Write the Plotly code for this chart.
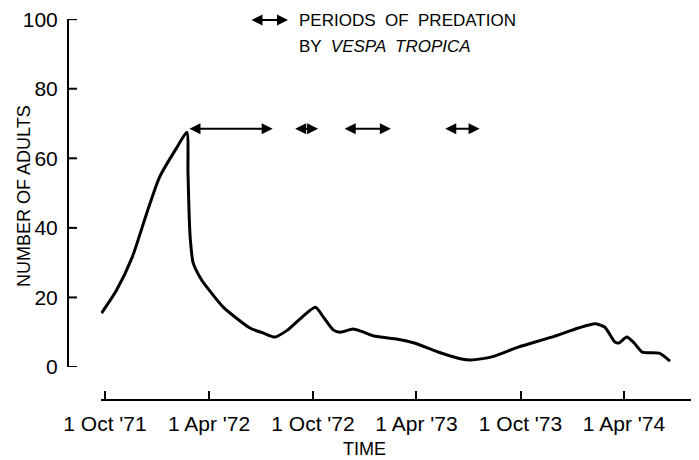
import plotly.graph_objects as go

# population of adults
dates = ["1971-09-25", "1971-10-21", "1971-11-18", "1971-12-13", "1972-01-05",
         "1972-02-04", "1972-02-22", "1972-02-24", "1972-02-26", "1972-02-28",
         "1972-03-04", "1972-03-19", "1972-03-28", "1972-04-26", "1972-06-12",
         "1972-07-05", "1972-07-26", "1972-08-17", "1972-10-05", "1972-10-19",
         "1972-11-06", "1972-11-18", "1972-12-10", "1972-12-24", "1973-01-16",
         "1973-02-27", "1973-03-28", "1973-05-09", "1973-06-19", "1973-07-06",
         "1973-08-11", "1973-09-27", "1973-11-25", "1974-01-11", "1974-02-09",
         "1974-02-26", "1974-03-16", "1974-03-23", "1974-04-06", "1974-04-19",
         "1974-05-03", "1974-06-02", "1974-06-21"]
adults = [15.5, 22, 31.6, 44, 54.6,
          63, 67.5, 56, 44, 37,
          30, 25, 23, 17.2, 11.2,
          9.8, 8.6, 10.6, 17.2, 14.4,
          10.6, 10, 10.9, 10.3, 8.9,
          8, 6.9, 4.3, 2.3, 2,
          2.9, 5.7, 8.6, 11.2, 12.4,
          11.5, 7.2, 6.9, 8.6, 6.9,
          4.3, 4, 1.7]

# periods of predation by Vespa tropica
pred_start = ["1972-02-24", "1972-08-28", "1972-11-23", "1973-05-19"]
pred_end = ["1972-07-22", "1972-10-10", "1973-02-15", "1973-07-21"]
pred_level = 68.5

tick_dates = ["1971-10-01", "1972-04-01", "1972-10-01", "1973-04-01", "1973-10-01", "1974-04-01"]
tick_text = ["1 Oct '71", "1 Apr '72", "1 Oct '72", "1 Apr '73", "1 Oct '73", "1 Apr '74"]
y_ticks = [0, 20, 40, 60, 80, 100]
x_end = "1974-08-11"

# page body has an 8px margin, so the figure is drawn 8px in from the window corner
OFF = 8
W, H = 699 - OFF, 460 - OFF
font_main = "Liberation Sans, Arial, sans-serif"


def px(x):
    return (x - OFF) / W


def py(y):
    return (H - (y - OFF)) / H


fig = go.Figure()
fig.add_trace(go.Scatter(x=dates, y=adults, mode='lines',
                         line=dict(color='black', width=3, shape='spline', smoothing=0.6),
                         showlegend=False, hoverinfo='skip'))

for s, e in zip(pred_start, pred_end):
    fig.add_annotation(x=e, y=pred_level, ax=s, ay=pred_level, xref='x', yref='y',
                       axref='x', ayref='y', text='', showarrow=True,
                       arrowhead=2, arrowside='end+start', arrowsize=1.1,
                       arrowwidth=2, arrowcolor='black')

# legend key
fig.add_annotation(x=px(288), y=py(20), xref='paper', yref='paper', ax=-38, ay=0,
                   axref='pixel', ayref='pixel', text='', showarrow=True,
                   arrowhead=2, arrowside='end+start', arrowsize=1.1,
                   arrowwidth=2, arrowcolor='black')
fig.add_annotation(x=px(297), y=py(20), xref='paper', yref='paper', showarrow=False,
                   xanchor='left', yanchor='middle', text="PERIODS  OF  PREDATION",
                   font=dict(family=font_main, size=17, color='black'))
fig.add_annotation(x=px(297), y=py(47), xref='paper', yref='paper', showarrow=False,
                   xanchor='left', yanchor='middle', text="BY  <i>VESPA  TROPICA</i>",
                   font=dict(family=font_main, size=17, color='black'))

fig.add_annotation(x=px(24), y=py(196), xref='paper', yref='paper', showarrow=False,
                   xanchor='center', yanchor='middle',
                   textangle=-90, text="NUMBER OF ADULTS",
                   font=dict(family=font_main, size=18, color='black'))
fig.add_annotation(x=px(364), y=py(449), xref='paper', yref='paper', showarrow=False,
                   xanchor='center', yanchor='middle',
                   text="TIME", font=dict(family=font_main, size=18, color='black'))

# axis lines and y tick marks (free-positioned axes do not draw their own)
fig.add_shape(type='line', xref='paper', yref='y', x0=px(68), x1=px(68),
              y0=y_ticks[0], y1=y_ticks[-1], line=dict(color='black', width=2))
fig.add_shape(type='line', xref='x', yref='paper', x0=tick_dates[0], x1=x_end,
              y0=py(400), y1=py(400), line=dict(color='black', width=2))
for v in y_ticks:
    fig.add_shape(type='line', xref='paper', yref='y', x0=px(68), x1=px(77),
                  y0=v, y1=v, line=dict(color='black', width=2))

fig.update_layout(
    width=W, height=H,
    margin=dict(l=0, r=0, t=0, b=0),
    paper_bgcolor='white', plot_bgcolor='white',
    font=dict(family=font_main, color='black'),
    xaxis=dict(type='date', range=["1971-09-24", x_end],
               domain=[px(101), 1], anchor='free', position=py(400),
               showgrid=False, zeroline=False, showline=True, linecolor='black', linewidth=2,
               ticks='inside', ticklen=8, tickwidth=2, tickcolor='black',
               tickvals=tick_dates, ticktext=tick_text, ticklabelstandoff=5,
               ticklabeloverflow='allow',
               tickfont=dict(family=font_main, size=21, color='black'),
               automargin=False),
    yaxis=dict(range=[0, 100.05], domain=[py(367), py(19)], anchor='free', position=px(68),
               showgrid=False, zeroline=False, showline=True, linecolor='black', linewidth=2,
               ticks='', tickvals=y_ticks, ticklabelstandoff=5, ticklabeloverflow='allow',
               tickfont=dict(family=font_main, size=21, color='black'),
               automargin=False),
)

fig.write_html("out.html")
